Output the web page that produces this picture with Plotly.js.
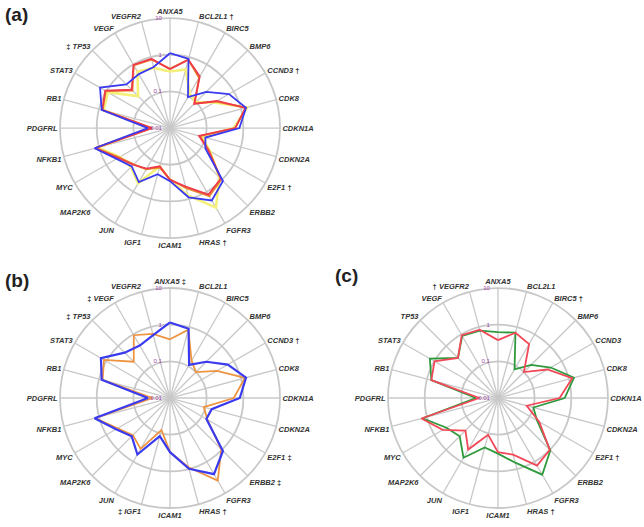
<!DOCTYPE html>
<html>
<head>
<meta charset="utf-8">
<script src="https://cdn.plot.ly/plotly-3.0.1.min.js"></script>
<style>
  html, body { margin: 0; padding: 0; background: #fff; }
  #grafico { width: 644px; height: 527px; }
</style>
</head>
<body>
<div id="grafico"></div>
<script>
// genes, clockwise from the top
const genes = ['ANXA5', 'BCL2L1', 'BIRC5', 'BMP6', 'CCND3', 'CDK8', 'CDKN1A', 'CDKN2A',
  'E2F1', 'ERBB2', 'FGFR3', 'HRAS', 'ICAM1', 'IGF1', 'JUN', 'MAP2K6', 'MYC', 'NFKB1',
  'PDGFRL', 'RB1', 'STAT3', 'TP53', 'VEGF', 'VEGFR2']

// significance marks next to the gene names
const marksA = ['', '†', '', '', '†', '', '', '', '†', '', '', '†', '', '', '', '', '', '', '', '', '', '‡', '', '']
const marksB = ['‡', '', '', '', '†', '', '', '', '‡', '‡', '', '†', '', '‡', '', '', '', '', '', '', '', '‡', '‡', '']
const marksC = ['', '', '†', '', '', '', '', '', '†', '', '', '†', '', '', '', '', '', '', '', '', '', '', '', '†']

const radialTicks = [0.01, 0.1, 1, 10]
const radialText = ['0.01', '0.1', '1', '10']

// panel (a)
const aBlue   = [1.1, 0.9, 0.095, 0.25, 0.72, 1.4, 0.78, 0.1, 0.13, 1.1, 1.9, 0.9, 0.28, 0.2, 0.5, 0.3, 0.48, 1.35, 0.04, 0.85, 1.6, 0.48, 0.5, 0.53]
const aRed    = [0.4, 0.85, 0.42, 0.085, 0.3, 1.35, 0.6, 0.066, 0.16, 0.9, 1.25, 0.45, 0.26, 0.12, 0.19, 0.26, 0.43, 1.3, 0.031, 0.82, 1.1, 0.3, 0.98, 0.9]
const aOrange = [0.42, 0.85, 0.38, 0.09, 0.28, 1.4, 0.6, 0.07, 0.17, 0.95, 1.4, 0.5, 0.25, 0.13, 0.2, 0.25, 0.4, 1.25, 0.032, 0.8, 1.05, 0.28, 0.95, 0.85]
const aYellow = [0.35, 0.45, 0.12, 0.1, 0.25, 1.5, 0.55, 0.08, 0.18, 0.8, 3.2, 0.8, 0.26, 0.12, 0.55, 0.32, 0.38, 1.1, 0.035, 0.75, 0.9, 0.17, 0.6, 0.5]

// panel (b)
const bBlue   = [1.15, 0.9, 0.11, 0.25, 0.66, 1.4, 0.8, 0.15, 0.14, 1.1, 2.5, 1.0, 0.3, 0.12, 0.6, 0.3, 0.5, 1.35, 0.04, 0.85, 1.5, 0.56, 0.45, 0.6]
const bOrange = [0.4, 0.85, 0.15, 0.1, 0.3, 1.3, 0.55, 0.09, 0.15, 0.95, 4.0, 0.9, 0.3, 0.08, 0.4, 0.27, 0.45, 1.3, 0.03, 0.8, 1.2, 0.25, 0.95, 0.65]

// panel (c)
const cGreen = [0.63, 0.7, 0.08, 0.19, 0.46, 1.4, 0.66, 0.1, 0.17, 1.05, 2.6, 0.67, 0.33, 0.25, 0.76, 0.3, 0.42, 1.35, 0.04, 0.76, 1.4, 0.35, 0.9, 0.8]
const cRed   = [0.38, 0.7, 0.5, 0.1, 0.36, 1.25, 0.48, 0.065, 0.2, 1.0, 1.35, 0.4, 0.3, 0.11, 0.42, 0.18, 0.55, 1.45, 0.032, 0.76, 1.0, 0.35, 0.95, 0.85]

function etiquetas(marks) {
  // marks go before the name on the left half, after it on the right half
  return genes.map((g, i) => {
    const name = '<b><i>' + g + '</i></b>'
    if (!marks[i]) return name
    return i > 12 ? '<b>' + marks[i] + '</b> ' + name : name + ' <b>' + marks[i] + '</b>'
  })
}

function cerrar(arr) {
  return arr.concat([arr[0]])
}

function serie(values, color, polar, width) {
  return {
    type: 'scatterpolar',
    r: cerrar(values),
    theta: cerrar(genes),
    mode: 'lines',
    line: { color: color, width: width || 1.8 },
    subplot: polar,
    showlegend: false,
    hoverinfo: 'skip'
  }
}

function polarLayout(domainX, domainY, marks) {
  return {
    domain: { x: domainX, y: domainY },
    bgcolor: 'rgba(0,0,0,0)',
    angularaxis: {
      type: 'category',
      categoryarray: genes,
      direction: 'clockwise',
      rotation: 90,
      tickmode: 'array',
      tickvals: genes,
      ticktext: etiquetas(marks),
      tickfont: { family: 'Liberation Sans, Arial', size: 7.5, color: '#333' },
      ticks: '',
      showline: true,
      linecolor: '#c8c8c8',
      linewidth: 1.8,
      gridcolor: '#c8c8c8',
      gridwidth: 1.3
    },
    radialaxis: {
      type: 'log',
      range: [-2, 1],
      angle: 90,
      side: 'counterclockwise',
      tickangle: 90,
      tickmode: 'array',
      tickvals: radialTicks,
      // trailing spaces push the labels to the left of the spoke
      ticktext: radialText.map(t => t + '\u00a0\u00a0\u00a0\u00a0'),
      tickfont: { family: 'Liberation Sans, Arial', size: 6, color: '#9b3fa0' },
      ticks: '',
      showline: false,
      gridcolor: '#c8c8c8',
      gridwidth: 1.8
    }
  }
}

const data = [
  serie(aYellow, '#f4f07a', 'polar', 2.6),
  serie(aOrange, '#e88a2a', 'polar'),
  serie(aRed, '#f03a4a', 'polar'),
  serie(aBlue, '#3a3af0', 'polar'),
  serie(bOrange, '#ee9440', 'polar2'),
  serie(bBlue, '#3a3af0', 'polar2', 2.2),
  serie(cGreen, '#2e9a3c', 'polar3'),
  serie(cRed, '#f24858', 'polar3')
]

const layout = {
  width: 644,
  height: 527,
  margin: { l: 0, r: 0, t: 0, b: 0 },
  paper_bgcolor: '#fff',
  font: { family: 'Liberation Sans, Arial' },
  polar: polarLayout([0.0932, 0.4348], [0.548, 0.966], marksA),
  polar2: polarLayout([0.0932, 0.4348], [0.036, 0.4535], marksB),
  polar3: polarLayout([0.6025, 0.944], [0.036, 0.4535], marksC),
  annotations: [
    { text: '<b>(a)</b>', x: 3, y: 15 },
    { text: '<b>(b)</b>', x: 3, y: 280 },
    { text: '<b>(c)</b>', x: 333, y: 275 }
  ].map(a => ({
    text: a.text,
    x: a.x / 644,
    y: 1 - a.y / 527,
    xref: 'paper',
    yref: 'paper',
    xanchor: 'left',
    yanchor: 'middle',
    showarrow: false,
    font: { family: 'Liberation Sans, Arial', size: 19, color: '#222' }
  }))
}

Plotly.newPlot('grafico', data, layout, { staticPlot: true })
</script>
</body>
</html>
